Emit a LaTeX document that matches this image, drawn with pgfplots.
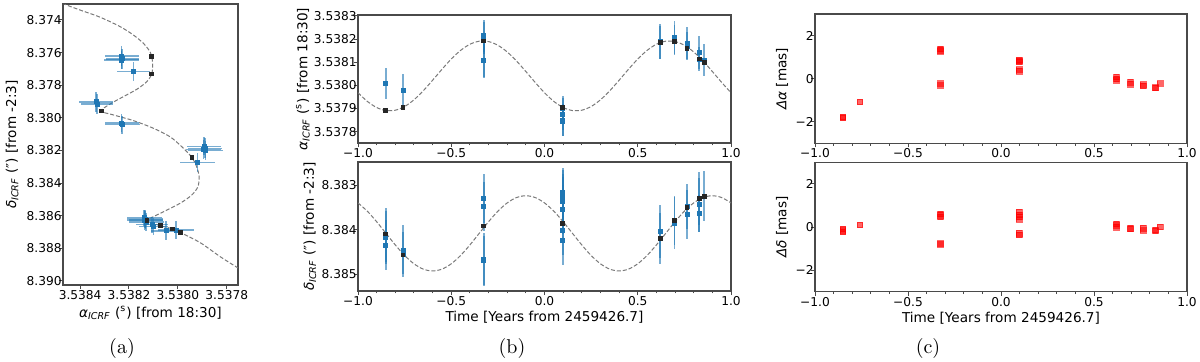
\documentclass[border=0pt]{standalone}
\usepackage{fontspec}
\usepackage{pgfplots}
\pgfplotsset{compat=1.18}
\newfontfamily\dv{DejaVu Sans}
\definecolor{tabblue}{HTML}{1F77B4}
\definecolor{modelgray}{HTML}{7A7A7A}
\definecolor{frame}{HTML}{4A4A4A}
\newcommand{\aICRF}{\textit{α}\textsubscript{\textit{ICRF}}}
\newcommand{\dICRF}{\textit{δ}\textsubscript{\textit{ICRF}}}

\pgfplotsset{
  mpl/.style={scale only axis,
    axis line style={draw=frame,line width=0.6pt},
    tick align=outside, tick pos=left,
    major tick length=2pt, minor tick length=1.2pt,
    tick style={draw=frame,line width=0.5pt},
    tick label style={font=\dv\fontsize{6.1}{7}\selectfont},
    yticklabel style={inner sep=0.5pt,xshift=2pt},
    xticklabel style={inner sep=0.5pt},
    label style={font=\dv\fontsize{6.8}{8}\selectfont}},
  ylab/.style={ylabel style={at={(axis description cs:#1,0.5)},anchor=center,font=\dv\fontsize{6.8}{8}\selectfont}},
  xlab/.style={xlabel style={at={(axis description cs:0.5,#1)},anchor=center,font=\dv\fontsize{6.8}{8}\selectfont}},
  timeaxis/.style={xmin=-1,xmax=1,xtick={-1,-0.5,0,0.5,1},
    xticklabels={−1.0,−0.5,0.0,0.5,1.0},minor x tick num=4},
  model/.style={draw=modelgray,line width=0.5pt,dash pattern=on 2pt off 1pt,smooth,no marks},
  bluey/.style={only marks,color=tabblue,mark=square*,mark size=1.0pt,
    error bars/.cd,y dir=both,y explicit,error mark=none,
    error bar style={draw=tabblue,draw opacity=0.6,line width=0.8pt}},
  bluexy/.style={only marks,color=tabblue,mark=square*,mark size=1.0pt,
    error bars/.cd,y dir=both,y explicit,x dir=both,x explicit,error mark=none,
    error bar style={draw=tabblue,draw opacity=0.6,line width=0.8pt}},
  blk/.style={only marks,color=black!85,mark=square*,mark size=0.95pt},
  redpt/.style={only marks,color=red,mark=square*,mark size=1.4pt,mark options={opacity=0.6}},
}

\begin{document}
\begin{tikzpicture}
\useasboundingbox (0,0) rectangle (600pt,-180.5pt);

% (a) sky track, alpha offset in 1e-4 s from 3.5380, delta offset in mas from 8.380
\begin{axis}[mpl,ylab=-0.291,xlab=-0.10,at={(31.5pt,-2pt)},anchor=north west,width=87.5pt,height=140.5pt,
  xmin=-2.46,xmax=4.70,x dir=reverse,ymin=-6.98,ymax=10.25,y dir=reverse,
  xtick={-2,0,2,4},xticklabels={3.5378,3.5380,3.5382,3.5384},
  ytick={-6,-4,-2,0,2,4,6,8,10},
  yticklabels={8.374,8.376,8.378,8.380,8.382,8.384,8.386,8.388,8.390},
  xlabel={\aICRF\ (\textsuperscript{s}) [from 18:30]},
  ylabel={\dICRF\ (″) [from -2:3]}]
\addplot[model] coordinates {(4.90,-7.30)(4.61,-6.96)(4.00,-6.61)(3.18,-6.17)(2.36,-5.59)(1.82,-5.08)
  (1.41,-4.57)(1.14,-4.06)(1.07,-3.79)(1.03,-3.24)(1.07,-2.69)(1.27,-2.22)(1.68,-1.75)
  (2.23,-1.30)(2.77,-0.85)(3.14,-0.42)(2.64,-0.18)(1.82,0.17)(1.00,0.64)(0.32,1.16)
  (-0.16,1.77)(-0.57,2.42)(-0.77,3.00)(-0.87,3.61)(-0.82,4.22)(-0.57,4.73)(-0.09,5.24)
  (0.59,5.76)(1.14,6.16)(1.27,6.31)(0.73,6.61)(0.21,6.81)(-0.09,7.02)(-0.91,7.65)
  (-1.73,8.51)(-2.48,9.22)(-2.80,9.45)};
\addplot[bluexy] coordinates {
  (2.30,-3.78) +- (0.70,0.60) (2.28,-3.62) +- (0.68,0.60) (2.30,-3.55) +- (0.72,0.55)
  (1.82,-2.83) +- (0.68,0.58)
  (3.35,-0.99) +- (0.68,0.62) (3.30,-0.85) +- (0.66,0.60)
  (2.30,0.33) +- (0.70,0.56) (2.28,0.42) +- (0.72,0.55)
  (-1.11,1.87) +- (0.70,0.62) (-1.05,1.95) +- (0.70,0.60) (-1.13,2.00) +- (0.72,0.60) (-1.08,1.75) +- (0.70,0.55)
  (-0.80,2.75) +- (0.70,0.57)
  (1.34,6.20) +- (0.75,0.55) (1.36,6.30) +- (0.74,0.60) (1.30,6.40) +- (0.72,0.55)
  (1.38,6.12) +- (0.72,0.50) (1.32,6.25) +- (0.70,0.55)
  (1.00,6.67) +- (0.60,0.50) (1.05,6.55) +- (0.65,0.50)
  (0.48,6.92) +- (0.62,0.60) (0.08,6.88) +- (0.72,0.55)};
\addplot[blk] coordinates {(1.07,-3.79)(1.07,-2.69)(3.14,-0.42)(-0.57,2.42)(1.27,6.31)(0.73,6.61)(0.21,6.81)(-0.09,7.02)};
\end{axis}

% (b) top: alpha vs time, offset in 1e-4 s from 3.5380
\begin{axis}[mpl,timeaxis,ylab=-0.1475,at={(179pt,-7.5pt)},anchor=north west,width=186.5pt,height=64pt,
  ymin=-2.49,ymax=3.04,ytick={-2,-1,0,1,2,3},
  yticklabels={3.5378,3.5379,3.5380,3.5381,3.5382,3.5383},
  ylabel={\aICRF\ (\textsuperscript{s}) [from 18:30]}]
\addplot[model] coordinates {(-1.00,-0.318)(-0.95,-0.691)(-0.90,-0.957)(-0.85,-1.088)(-0.80,-1.073)
  (-0.75,-0.913)(-0.70,-0.624)(-0.65,-0.233)(-0.60,0.221)(-0.55,0.692)(-0.50,1.138)(-0.45,1.511)
  (-0.40,1.777)(-0.35,1.908)(-0.30,1.893)(-0.25,1.733)(-0.20,1.444)(-0.15,1.053)(-0.10,0.599)
  (-0.05,0.128)(0.00,-0.318)(0.05,-0.691)(0.10,-0.957)(0.15,-1.088)(0.20,-1.073)(0.25,-0.913)
  (0.30,-0.624)(0.35,-0.233)(0.40,0.221)(0.45,0.692)(0.50,1.138)(0.55,1.511)(0.60,1.777)
  (0.65,1.908)(0.70,1.893)(0.75,1.733)(0.80,1.444)(0.85,1.053)(0.90,0.599)(0.95,0.128)(1.00,-0.318)};
\addplot[bluey] coordinates {
  (-0.851,0.09) +- (0,0.68) (-0.759,-0.22) +- (0,0.72)
  (-0.326,2.14) +- (0,0.70) (-0.326,2.05) +- (0,0.70) (-0.326,1.06) +- (0,0.73) (-0.326,1.10) +- (0,0.72)
  (0.098,-1.24) +- (0,0.70) (0.098,-1.50) +- (0,0.70) (0.098,-1.54) +- (0,0.66) (0.098,-0.98) +- (0,0.50)
  (0.620,1.89) +- (0,0.75) (0.620,1.85) +- (0,0.70)
  (0.697,2.06) +- (0,0.70) (0.697,1.95) +- (0,0.65)
  (0.764,1.82) +- (0,0.70) (0.764,1.70) +- (0,0.60)
  (0.830,1.43) +- (0,0.71) (0.830,1.14) +- (0,0.50)
  (0.856,1.10) +- (0,0.69)};
\addplot[blk] coordinates {(-0.851,-1.09)(-0.759,-0.95)(-0.326,1.92)(0.098,-0.96)(0.620,1.87)(0.697,1.89)(0.764,1.60)(0.830,1.14)(0.856,1.00)};
\end{axis}

% (b) bottom: delta vs time, offset in mas from 8.384
\begin{axis}[mpl,timeaxis,ylab=-0.129,xlab=-0.20,at={(179pt,-81pt)},anchor=north west,width=186.5pt,height=64.5pt,
  ymin=-1.52,ymax=1.37,y dir=reverse,ytick={-1,0,1},yticklabels={8.383,8.384,8.385},
  xlabel={Time [Years from 2459426.7]},
  ylabel={\dICRF\ (″) [from -2:3]}]
\addplot[model] coordinates {(-1.00,-0.604)(-0.95,-0.418)(-0.90,-0.182)(-0.85,0.078)(-0.80,0.338)
  (-0.75,0.574)(-0.70,0.760)(-0.65,0.880)(-0.60,0.921)(-0.55,0.880)(-0.50,0.760)(-0.45,0.574)
  (-0.40,0.338)(-0.35,0.078)(-0.30,-0.182)(-0.25,-0.418)(-0.20,-0.604)(-0.15,-0.724)(-0.10,-0.765)
  (-0.05,-0.724)(0.00,-0.604)(0.05,-0.418)(0.10,-0.182)(0.15,0.078)(0.20,0.338)(0.25,0.574)
  (0.30,0.760)(0.35,0.880)(0.40,0.921)(0.45,0.880)(0.50,0.760)(0.55,0.574)(0.60,0.338)
  (0.65,0.078)(0.70,-0.182)(0.75,-0.418)(0.80,-0.604)(0.85,-0.724)(0.90,-0.765)(0.95,-0.724)(1.00,-0.604)};
\addplot[bluey] coordinates {
  (-0.851,0.11) +- (0,0.60) (-0.851,0.17) +- (0,0.60) (-0.851,0.34) +- (0,0.55)
  (-0.759,0.45) +- (0,0.55) (-0.759,0.55) +- (0,0.50)
  (-0.326,-0.71) +- (0,0.55) (-0.326,-0.53) +- (0,0.55) (-0.326,0.66) +- (0,0.58) (-0.326,0.69) +- (0,0.56)
  (0.098,-0.84) +- (0,0.55) (0.098,-0.78) +- (0,0.55) (0.098,-0.71) +- (0,0.55) (0.098,-0.63) +- (0,0.55)
  (0.098,-0.46) +- (0,0.55) (0.098,0.02) +- (0,0.55) (0.098,0.24) +- (0,0.55)
  (0.620,0.04) +- (0,0.60) (0.620,0.19) +- (0,0.57)
  (0.697,-0.15) +- (0,0.58) (0.697,-0.21) +- (0,0.55)
  (0.764,-0.52) +- (0,0.50) (0.764,-0.35) +- (0,0.55)
  (0.830,-0.70) +- (0,0.60) (0.830,-0.56) +- (0,0.60) (0.830,-0.37) +- (0,0.41)
  (0.856,-0.75) +- (0,0.56)};
\addplot[blk] coordinates {(-0.851,0.09)(-0.759,0.56)(-0.326,-0.09)(0.098,-0.15)(0.620,0.19)(0.697,-0.21)(0.764,-0.51)(0.830,-0.70)(0.856,-0.75)};
\end{axis}

% (c) residuals
\begin{axis}[mpl,timeaxis,ylab=-0.0887,at={(407.5pt,-7pt)},anchor=north west,width=186pt,height=64.7pt,
  ymin=-3,ymax=3,ytick={-2,0,2},yticklabels={−2,0,2},
  ylabel={\textit{Δα} [mas]}]
\addplot[redpt] coordinates {(-0.851,-1.77)(-0.851,-1.82)(-0.759,-1.08)
  (-0.326,1.38)(-0.326,1.27)(-0.326,1.32)(-0.326,-0.22)(-0.326,-0.31)
  (0.098,0.88)(0.098,0.78)(0.098,0.83)(0.098,0.42)(0.098,0.35)
  (0.620,0.08)(0.620,0.00)(0.620,-0.09)(0.697,-0.16)(0.697,-0.25)
  (0.764,-0.27)(0.764,-0.33)(0.830,-0.43)(0.830,-0.40)(0.856,-0.23)};
\end{axis}
\begin{axis}[mpl,timeaxis,ylab=-0.0887,xlab=-0.204,at={(407.5pt,-81.2pt)},anchor=north west,width=186pt,height=64.7pt,
  ymin=-3,ymax=3,ytick={-2,0,2},yticklabels={−2,0,2},
  xlabel={Time [Years from 2459426.7]},
  ylabel={\textit{Δδ} [mas]}]
\addplot[redpt] coordinates {(-0.851,-0.08)(-0.851,-0.23)(-0.851,-0.15)(-0.759,0.11)
  (-0.326,0.62)(-0.326,0.47)(-0.326,0.55)(-0.326,-0.76)(-0.326,-0.80)
  (0.098,0.70)(0.098,0.57)(0.098,0.47)(0.098,0.35)(0.098,-0.28)(0.098,-0.37)
  (0.620,0.14)(0.620,0.00)(0.620,0.07)(0.697,-0.05)(0.697,-0.08)
  (0.764,-0.05)(0.764,-0.16)(0.830,-0.13)(0.830,-0.17)(0.856,0.01)};
\end{axis}

\node[font=\fontsize{10}{12}\selectfont] at (61pt,-174pt) {(a)};
\node[font=\fontsize{10}{12}\selectfont] at (256pt,-174pt) {(b)};
\node[font=\fontsize{10}{12}\selectfont] at (464pt,-174pt) {(c)};
\end{tikzpicture}
\end{document}
